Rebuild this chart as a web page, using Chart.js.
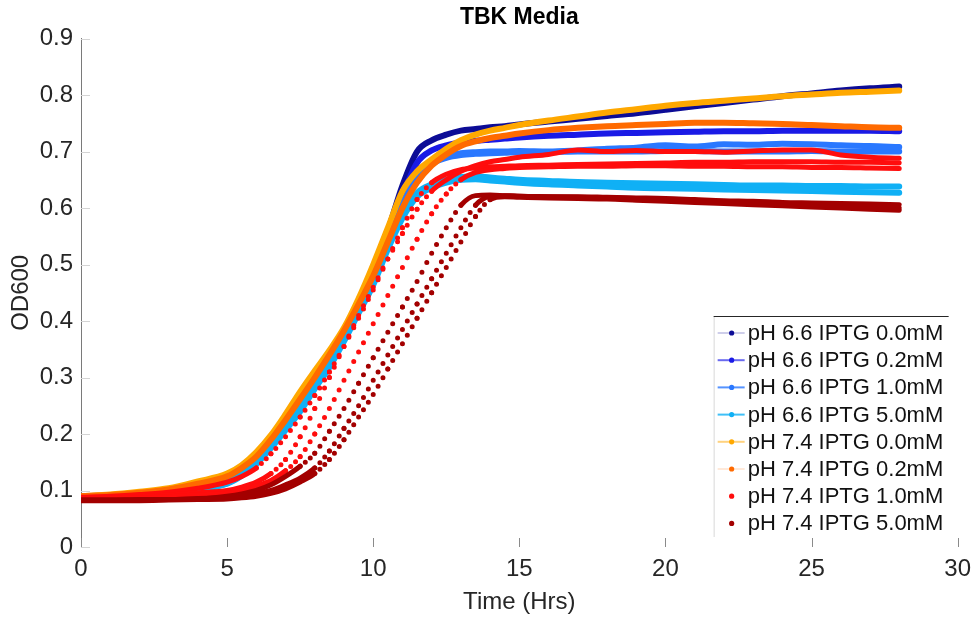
<!DOCTYPE html>
<html>
<head>
<meta charset="utf-8">
<title>TBK Media</title>
<script src="https://cdn.jsdelivr.net/npm/chart.js@4.4.1/dist/chart.umd.min.js"></script>
<style>
  html, body { margin: 0; padding: 0; background: #fff; }
  #wrap { width: 979px; height: 623px; }
</style>
</head>
<body>
<div id="wrap"><canvas id="growthChart"></canvas></div>
<script>
// Thời gian đo (giờ) - dùng chung cho tất cả giếng
var hours = [0, 1, 2, 3, 4,
  5, 5.5, 6, 6.5, 7, 7.5,
  8, 8.5, 9, 9.5, 10, 10.5,
  11, 11.5, 12, 12.5, 13, 13.5,
  14, 14.5, 15,
  16, 17, 18, 19, 20, 21, 22,
  23, 24, 25, 26, 27, 28];

// OD600 - pH 6.6
var ph66_ipt00 = [0.090, 0.091, 0.093, 0.097, 0.104,
  0.115, 0.130, 0.152, 0.182, 0.215, 0.250,
  0.290, 0.330, 0.378, 0.430, 0.490, 0.560,
  0.640, 0.700, 0.720, 0.730, 0.737, 0.740,
  0.743, 0.745, 0.748,
  0.753, 0.758, 0.763, 0.768, 0.774, 0.780, 0.786,
  0.792, 0.798, 0.803, 0.808, 0.812, 0.815];
var ph66_ipt02 = [0.089, 0.090, 0.092, 0.096, 0.103,
  0.114, 0.128, 0.150, 0.180, 0.212, 0.247,
  0.287, 0.327, 0.373, 0.425, 0.482, 0.548,
  0.622, 0.680, 0.702, 0.711, 0.716, 0.719,
  0.721, 0.723, 0.725,
  0.728, 0.730, 0.732, 0.733, 0.734, 0.735, 0.736,
  0.736, 0.737, 0.737, 0.737, 0.737, 0.736];
var ph66_ipt10a = [0.088, 0.089, 0.091, 0.095, 0.102,
  0.113, 0.127, 0.148, 0.177, 0.209, 0.244,
  0.284, 0.324, 0.370, 0.420, 0.475, 0.538,
  0.600, 0.652, 0.678, 0.689, 0.694, 0.696,
  0.697, 0.698, 0.699,
  0.699, 0.700, 0.700, 0.700, 0.701, 0.701, 0.700,
  0.700, 0.700, 0.701, 0.700, 0.700, 0.700];
var ph66_ipt10b = [0.089, 0.090, 0.092, 0.096, 0.103,
  0.114, 0.128, 0.150, 0.179, 0.211, 0.246,
  0.286, 0.327, 0.373, 0.424, 0.480, 0.543,
  0.606, 0.657, 0.682, 0.692, 0.697, 0.699,
  0.700, 0.700, 0.701,
  0.700, 0.702, 0.705, 0.707, 0.711, 0.709, 0.713,
  0.712, 0.714, 0.713, 0.711, 0.710, 0.708];
var ph66_ipt50a = [0.088, 0.090, 0.092, 0.096, 0.104,
  0.115, 0.130, 0.152, 0.180, 0.212, 0.245,
  0.285, 0.322, 0.370, 0.420, 0.470, 0.535,
  0.590, 0.627, 0.642, 0.650, 0.655, 0.656,
  0.654, 0.652, 0.650,
  0.648, 0.646, 0.645, 0.644, 0.643, 0.642, 0.641,
  0.640, 0.640, 0.639, 0.639, 0.638, 0.638];
var ph66_ipt50b = [0.087, 0.089, 0.091, 0.095, 0.102,
  0.112, 0.126, 0.147, 0.175, 0.207, 0.240,
  0.280, 0.318, 0.364, 0.414, 0.464, 0.527,
  0.582, 0.620, 0.636, 0.645, 0.650, 0.651,
  0.649, 0.647, 0.645,
  0.642, 0.640, 0.638, 0.636, 0.635, 0.634, 0.633,
  0.632, 0.631, 0.630, 0.629, 0.628, 0.627];

// OD600 - pH 7.4
var ph74_ipt00 = [0.090, 0.093, 0.098, 0.104, 0.116,
  0.130, 0.145, 0.168, 0.198, 0.235, 0.275,
  0.312, 0.348, 0.388, 0.440, 0.500, 0.565,
  0.630, 0.665, 0.686, 0.705, 0.720, 0.730,
  0.737, 0.742, 0.747,
  0.755, 0.762, 0.769, 0.775, 0.781, 0.786, 0.790,
  0.794, 0.798, 0.801, 0.804, 0.806, 0.808];
var ph74_ipt02 = [0.090, 0.092, 0.096, 0.102, 0.112,
  0.125, 0.140, 0.160, 0.190, 0.225, 0.262,
  0.300, 0.340, 0.383, 0.430, 0.480, 0.540,
  0.600, 0.645, 0.675, 0.695, 0.710, 0.718,
  0.724, 0.728, 0.732,
  0.738, 0.742, 0.745, 0.747, 0.749, 0.751, 0.751,
  0.750, 0.749, 0.747, 0.745, 0.743, 0.742];
var ph74_ipt10a = [0.088, 0.090, 0.093, 0.097, 0.104,
  0.115, 0.125, 0.140, 0.165, 0.195, 0.230,
  0.268, 0.310, 0.355, 0.405, 0.455, 0.510,
  0.565, 0.615, 0.645, 0.660, 0.668, 0.671,
  0.673, 0.674, 0.675,
  0.676, 0.677, 0.678, 0.679, 0.680, 0.681, 0.681,
  0.682, 0.682, 0.682, 0.681, 0.681, 0.680];
var ph74_ipt10b = [0.086, 0.087, 0.089, 0.092, 0.096,
  0.100, 0.106, 0.115, 0.130, 0.155, 0.195,
  0.245, 0.300, 0.355, 0.410, 0.460, 0.510,
  0.555, 0.598, 0.630, 0.650, 0.665, 0.675,
  0.682, 0.686, 0.690,
  0.695, 0.703, 0.700, 0.702, 0.700, 0.700, 0.699,
  0.701, 0.703, 0.703, 0.694, 0.690, 0.688];
var ph74_ipt10c = [0.085, 0.086, 0.087, 0.089, 0.092,
  0.095, 0.100, 0.108, 0.118, 0.135, 0.160,
  0.200, 0.245, 0.295, 0.345, 0.395, 0.445,
  0.495, 0.545, 0.590, 0.625, 0.650, 0.663,
  0.668, 0.670, 0.672,
  0.673, 0.674, 0.674, 0.675, 0.675, 0.674, 0.674,
  0.673, 0.673, 0.672, 0.672, 0.671, 0.670];
var ph74_ipt50a = [0.083, 0.083, 0.083, 0.084, 0.085,
  0.090, 0.094, 0.100, 0.110, 0.125, 0.143,
  0.166, 0.205, 0.245, 0.290, 0.335, 0.380,
  0.425, 0.470, 0.520, 0.565, 0.605, 0.622,
  0.623, 0.622, 0.621,
  0.620, 0.619, 0.618, 0.617, 0.615, 0.613, 0.611,
  0.609, 0.607, 0.605, 0.603, 0.601, 0.600];
var ph74_ipt50b = [0.083, 0.083, 0.084, 0.084, 0.086,
  0.087, 0.090, 0.094, 0.100, 0.110, 0.122,
  0.140, 0.170, 0.210, 0.250, 0.295, 0.340,
  0.385, 0.430, 0.475, 0.520, 0.565, 0.605,
  0.621, 0.622, 0.621,
  0.620, 0.620, 0.619, 0.618, 0.617, 0.615, 0.613,
  0.612, 0.610, 0.609, 0.608, 0.607, 0.606];
var ph74_ipt50c = [0.082, 0.082, 0.082, 0.083, 0.084,
  0.085, 0.087, 0.090, 0.095, 0.103, 0.115,
  0.130, 0.155, 0.190, 0.230, 0.270, 0.315,
  0.360, 0.405, 0.450, 0.495, 0.540, 0.585,
  0.615, 0.620, 0.619,
  0.618, 0.617, 0.616, 0.614, 0.612, 0.610, 0.608,
  0.606, 0.604, 0.602, 0.600, 0.598, 0.596];

// Nhãn điều kiện (theo thứ tự chú thích) và các giếng lặp lại
var conditions = ['pH 6.6 IPTG 0.0mM', 'pH 6.6 IPTG 0.2mM', 'pH 6.6 IPTG 1.0mM', 'pH 6.6 IPTG 5.0mM',
  'pH 7.4 IPTG 0.0mM', 'pH 7.4 IPTG 0.2mM', 'pH 7.4 IPTG 1.0mM', 'pH 7.4 IPTG 5.0mM'];
var replicates = [
  [ph66_ipt00], [ph66_ipt02], [ph66_ipt10a, ph66_ipt10b], [ph66_ipt50a, ph66_ipt50b],
  [ph74_ipt00], [ph74_ipt02], [ph74_ipt10a, ph74_ipt10b, ph74_ipt10c], [ph74_ipt50a, ph74_ipt50b, ph74_ipt50c]
];
var xTicks = [0, 5, 10, 15, 20, 25, 30];
var yTicks = [0, 0.1, 0.2, 0.3, 0.4, 0.5, 0.6, 0.7, 0.8, 0.9];
var sampleMinutes = 10; // máy đọc mỗi 10 phút

// Màu và kiểu nét
var colors = ['#0c0c96', '#1a1ae6', '#2a78ff', '#10b0f5', '#ffa800', '#ff6a00', '#ff0d0d', '#a30000'];
var dotted = [false, false, false, false, false, false, true, true];
var legendLineAlpha = [0.2, 0.65, 0.8, 0.8, 0.5, 0.15, 0, 0];
var FONT = "'Liberation Sans', Arial, Helvetica, sans-serif";

// Chỗ dốc thì các điểm đo tách rời nhau -> vẽ chấm
function dottedSegment(ctx) {
  var xs = ctx.chart.scales.x;
  var step = Math.abs(xs.getPixelForValue(sampleMinutes / 60) - xs.getPixelForValue(0));
  var dx = Math.abs(ctx.p1.x - ctx.p0.x), dy = Math.abs(ctx.p1.y - ctx.p0.y);
  var gap = step * Math.sqrt(dx * dx + dy * dy) / Math.max(dx, 0.001);
  return gap > 6.5 ? [0, gap] : undefined;
}

var datasets = [];
replicates.forEach(function (reps, c) {
  reps.forEach(function (arr, r) {
    datasets.push({
      label: conditions[c] + ' #' + (r + 1),
      data: hours.map(function (h, i) { return { x: h, y: arr[i] }; }),
      borderColor: colors[c],
      backgroundColor: colors[c],
      borderWidth: dotted[c] ? 5 : 6,
      borderCapStyle: 'round',
      borderJoinStyle: 'round',
      pointRadius: 0,
      fill: false,
      cubicInterpolationMode: 'monotone',
      order: 100 - datasets.length, // giống MATLAB: vẽ sau nằm trên
      segment: dotted[c] ? { borderDash: dottedSegment } : undefined
    });
  });
});

// Vạch chia hướng vào trong như MATLAB
var innerTicks = {
  id: 'innerTicks',
  beforeDatasetsDraw: function (chart) {
    var ctx = chart.ctx, xs = chart.scales.x, ys = chart.scales.y, a = chart.chartArea;
    ctx.save();
    ctx.lineWidth = 1;
    ctx.strokeStyle = '#d4d4d4';
    ys.ticks.forEach(function (t) {
      var y = Math.round(ys.getPixelForValue(t.value)) + 0.5;
      ctx.beginPath(); ctx.moveTo(a.left, y); ctx.lineTo(a.left + 9, y); ctx.stroke();
    });
    ctx.strokeStyle = '#8a8a8a';
    xs.ticks.forEach(function (t) {
      var x = Math.round(xs.getPixelForValue(t.value)) + 0.5;
      ctx.beginPath(); ctx.moveTo(x, a.bottom); ctx.lineTo(x, a.bottom - 9); ctx.stroke();
    });
    ctx.restore();
  }
};

// Chú thích vẽ tay ở góc dưới phải
var cornerLegend = {
  id: 'cornerLegend',
  afterDraw: function (chart) {
    var ctx = chart.ctx, a = chart.chartArea;
    var right = a.right - 9, left = right - 235, bottom = a.bottom - 10, top = bottom - 221;
    ctx.save();
    ctx.fillStyle = '#fff';
    ctx.fillRect(left, top, right - left, bottom - top);
    ctx.lineWidth = 1;
    ctx.strokeStyle = '#d8d8d8';
    ctx.beginPath(); ctx.moveTo(left + 0.5, top); ctx.lineTo(left + 0.5, bottom); ctx.stroke();
    ctx.strokeStyle = '#262626';
    ctx.beginPath(); ctx.moveTo(left, top + 0.5); ctx.lineTo(right, top + 0.5); ctx.stroke();
    ctx.font = '22px ' + FONT;
    ctx.textBaseline = 'middle';
    ctx.textAlign = 'left';
    conditions.forEach(function (name, i) {
      var y = top + 17 + i * 27.2;
      if (legendLineAlpha[i] > 0) {
        ctx.globalAlpha = legendLineAlpha[i];
        ctx.strokeStyle = colors[i];
        ctx.lineWidth = 2;
        ctx.beginPath(); ctx.moveTo(left + 4, y); ctx.lineTo(left + 31, y); ctx.stroke();
      }
      ctx.globalAlpha = 1;
      ctx.fillStyle = colors[i];
      ctx.beginPath(); ctx.arc(left + 18, y, 2.6, 0, Math.PI * 2); ctx.fill();
      ctx.fillStyle = '#111';
      ctx.fillText(name, left + 34, y + 1);
    });
    ctx.restore();
  }
};

new Chart(document.getElementById('growthChart'), {
  type: 'line',
  data: { datasets: datasets },
  plugins: [innerTicks, cornerLegend],
  options: {
    responsive: true,
    maintainAspectRatio: false,
    animation: false,
    layout: { padding: { left: 0, right: 17, top: 0, bottom: 0 } },
    plugins: {
      legend: { display: false },
      tooltip: { enabled: false },
      title: {
        display: true,
        text: 'TBK Media',
        color: '#000',
        fullSize: false,
        font: { family: FONT, size: 23, weight: 'bold' },
        padding: { top: 4, bottom: 7 }
      }
    },
    scales: {
      x: {
        type: 'linear',
        min: 0, max: 30,
        afterBuildTicks: function (s) { s.ticks = xTicks.map(function (v) { return { value: v }; }); },
        afterFit: function (s) { s.height = 76; },
        grid: { display: false, drawTicks: false },
        border: { display: false },
        ticks: { color: '#262626', padding: 8, maxRotation: 0, font: { family: FONT, size: 24 } },
        title: { display: true, text: 'Time (Hrs)', color: '#262626', font: { family: FONT, size: 24 }, padding: { top: 0, bottom: 6 } }
      },
      y: {
        type: 'linear',
        min: 0, max: 0.9,
        afterBuildTicks: function (s) { s.ticks = yTicks.map(function (v) { return { value: v }; }); },
        afterFit: function (s) { s.width = 81; },
        grid: { display: false, drawTicks: false },
        border: { display: true, color: '#7a7a7a', width: 1 },
        ticks: { color: '#262626', padding: 8, font: { family: FONT, size: 24 } },
        title: { display: true, text: 'OD600', color: '#262626', font: { family: FONT, size: 24 }, padding: { top: 7, bottom: 0 } }
      }
    }
  }
});
</script>
</body>
</html>
